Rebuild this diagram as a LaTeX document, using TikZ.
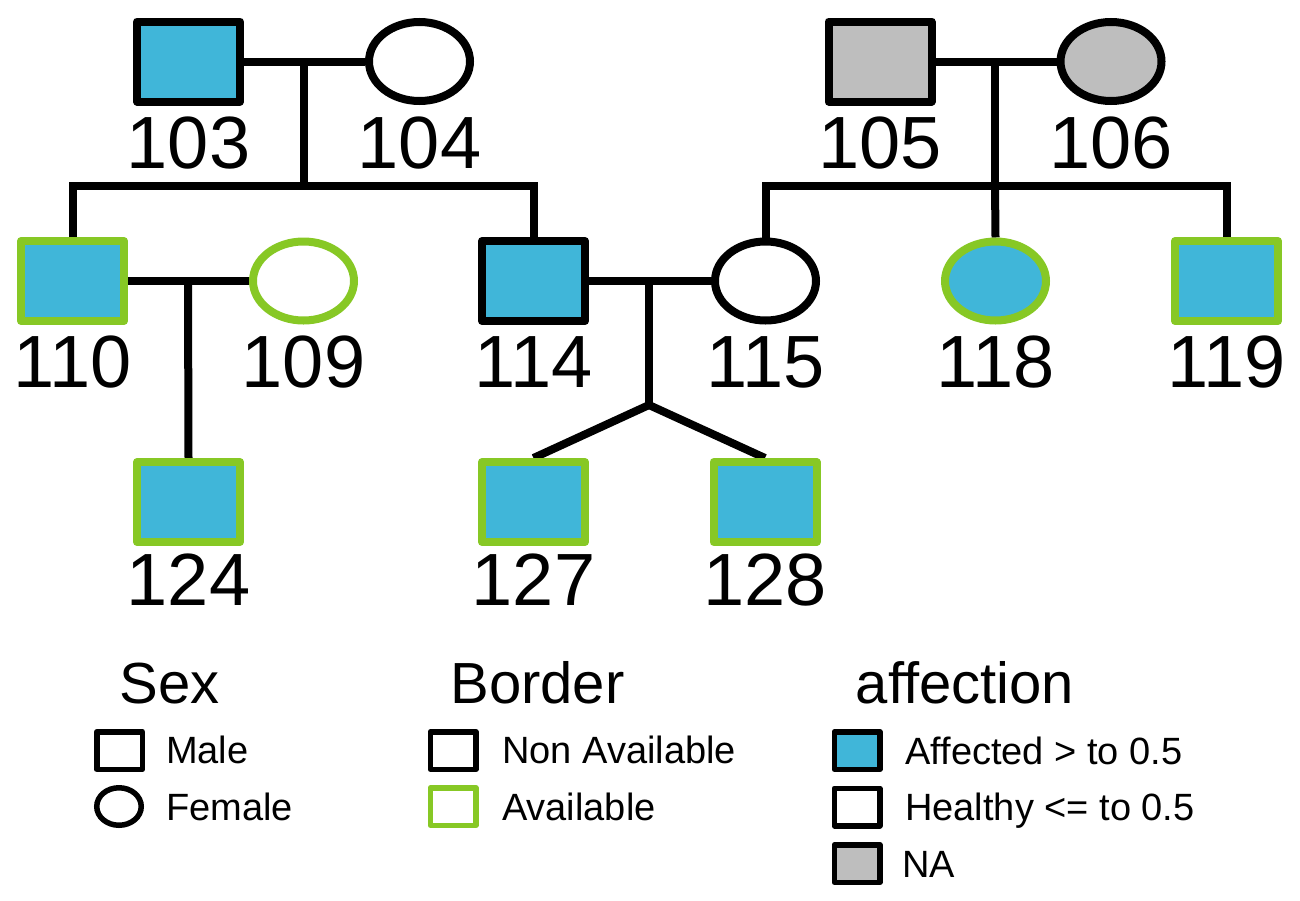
\documentclass[tikz,border=0pt]{standalone}
\usepackage{fontspec}
\setmainfont{Liberation Sans}
\usetikzlibrary{shapes.geometric}
\definecolor{aff}{HTML}{40B6D9}
\definecolor{avail}{HTML}{87C825}
\definecolor{na}{HTML}{BEBEBE}
\pgfdeclarelayer{bg}
\pgfsetlayers{bg,main}
\tikzset{
  male/.style={rectangle, draw=black, line width=8pt, line join=round, minimum width=103pt, minimum height=80pt, inner sep=0pt, fill=white},
  female/.style={ellipse, draw=black, line width=8pt, minimum width=101pt, minimum height=79pt, inner sep=0pt, fill=white},
  affected/.style={fill=aff},
  unknown/.style={fill=na},
  available/.style={draw=avail},
  idlbl/.style={anchor=base, inner sep=0pt, font=\fontsize{74}{80}\selectfont},
  link/.style={line width=8pt, draw=black},
  lgtitle/.style={anchor=base, inner sep=0pt, font=\fontsize{58}{62}\selectfont},
  lgtext/.style={anchor=base west, inner sep=0pt, font=\fontsize{38}{42}\selectfont},
  lgmale/.style={rectangle, draw=black, line width=5.5pt, line join=round, minimum width=45.5pt, minimum height=37.5pt, inner sep=0pt, fill=white},
  lgfemale/.style={ellipse, draw=black, line width=5.5pt, minimum width=44.5pt, minimum height=37.5pt, inner sep=0pt, fill=white}
}
\begin{document}
\begin{tikzpicture}[x=1pt,y=-1pt]
\useasboundingbox (0,0) rectangle (1300,900);
% generation 1
\node[male, affected] (n103) at (188.5,61.5) {};
\node[female] (n104) at (419.5,61.5) {};
\node[male, unknown] (n105) at (880,61.5) {};
\node[female, unknown] (n106) at (1111,61.5) {};
% generation 2
\node[male, affected, available] (n110) at (72.5,281) {};
\node[female, available] (n109) at (303.5,281) {};
\node[male, affected] (n114) at (533.5,281) {};
\node[female] (n115) at (765.5,281) {};
\node[female, affected, available] (n118) at (995.5,281) {};
\node[male, affected, available] (n119) at (1226.5,281) {};
% generation 3
\node[male, affected, available] (n124) at (188.5,502) {};
\node[male, affected, available] (n127) at (533.5,502) {};
\node[male, affected, available] (n128) at (765,502) {};
% labels
\node[idlbl] (l103) at (188.5,168) {103};
\node[idlbl] (l104) at (419.5,168) {104};
\node[idlbl] (l105) at (880,168) {105};
\node[idlbl] (l106) at (1111,168) {106};
\node[idlbl] (l110) at (72.5,387) {110};
\node[idlbl] (l109) at (303.5,387) {109};
\node[idlbl] (l114) at (533.5,387) {114};
\node[idlbl] (l115) at (765.5,387) {115};
\node[idlbl] (l118) at (995.5,387) {118};
\node[idlbl] (l119) at (1226.5,387) {119};
\node[idlbl] (l124) at (188.5,605) {124};
\node[idlbl] (l127) at (533.5,605) {127};
\node[idlbl] (l128) at (765,605) {128};
% coordinates
\coordinate (m1) at (304,61.5);
\coordinate (s1) at (304,185.5);
\coordinate (s1l) at (72.5,185.5);
\coordinate (s1r) at (533.5,185.5);
\coordinate (m2) at (995,61.5);
\coordinate (s2) at (995,185.5);
\coordinate (s2l) at (765.5,185.5);
\coordinate (s2r) at (1226.5,185.5);
\coordinate (m3) at (188,281);
\coordinate (m4) at (649,281);
\coordinate (tw) at (649,405);
% connectors
\begin{pgfonlayer}{bg}
\draw[link] (n103.east) -- (n104.west);
\draw[link] (m1) -- (s1);
\draw[link] (n110.north) -- (s1l) -- (s1r) -- (n114.north);
\draw[link] (n105.east) -- (n106.west);
\draw[link] (m2) -- (s2);
\draw[link] (n115.north) -- (s2l) -- (s2r) -- (n119.north);
\draw[link] (s2) -- (n118.north);
\draw[link] (n110.east) -- (n109.west);
\draw[link] (m3) -- (n124.north);
\draw[link] (n114.east) -- (n115.west);
\draw[link] (m4) -- (tw);
\draw[link] (tw) -- (n127.north);
\draw[link] (tw) -- (n128.north);
\end{pgfonlayer}
% legend
\node[lgtitle] (tsex) at (169.5,703) {Sex};
\node[lgtitle] (tborder) at (537.5,703) {Border};
\node[lgtitle] (taff) at (965,703) {affection};
\node[lgmale] (lgm) at (119.5,750.5) {};
\node[lgtext] (tm) at (166,763) {Male};
\node[lgfemale] (lgf) at (119,806.5) {};
\node[lgtext] (tf) at (166,820) {Female};
\node[lgmale] (lgna) at (453,750.5) {};
\node[lgtext] (tna) at (502,763) {Non Available};
\node[lgmale, draw=avail] (lgav) at (453,806.5) {};
\node[lgtext] (tav) at (502,820) {Available};
\node[lgmale, fill=aff] (lga) at (857,750.5) {};
\node[lgtext] (ta) at (905,764) {Affected > to 0.5};
\node[lgmale] (lgh) at (857,807) {};
\node[lgtext] (th) at (905,820) {Healthy <= to 0.5};
\node[lgmale, fill=na] (lgn) at (857,863.5) {};
\node[lgtext] (tn) at (902,877) {NA};
\end{tikzpicture}
\end{document}
